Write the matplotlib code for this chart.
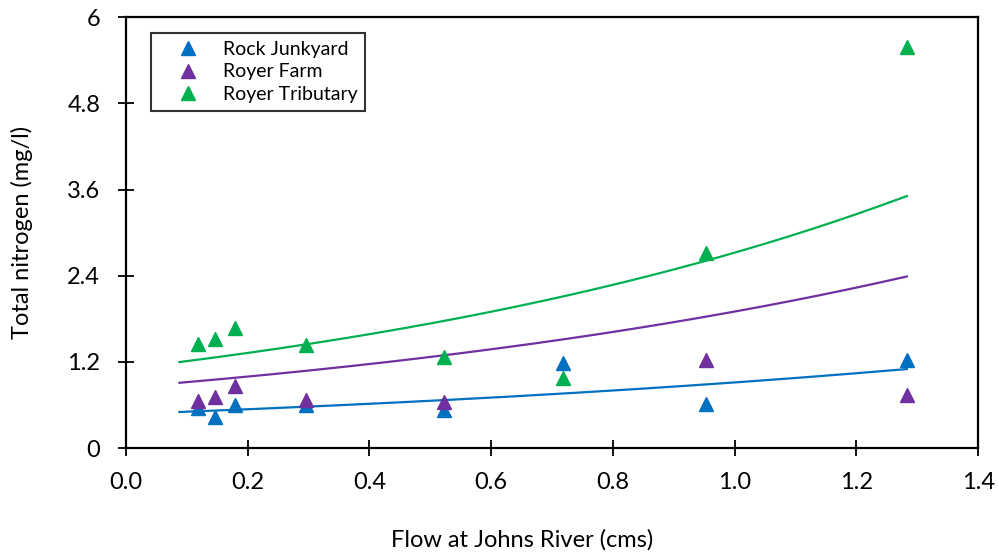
import numpy as np
import matplotlib
matplotlib.use("Agg")
import matplotlib.pyplot as plt
from matplotlib.ticker import FuncFormatter

# Flow at Johns River (cms) for each sampling date
flow = [0.118, 0.146, 0.180, 0.296, 0.522, 0.718, 0.953, 1.283]

# Total nitrogen (mg/l) at each site
rock_junkyard = [0.56, 0.43, 0.60, 0.60, 0.53, 1.19, 0.61, 1.23]
royer_farm = [0.66, 0.71, 0.87, 0.67, 0.64, np.nan, 1.23, 0.74]
royer_tributary = [1.45, 1.52, 1.67, 1.44, 1.27, 0.98, 2.72, 5.58]

series_names = ["Rock Junkyard", "Royer Farm", "Royer Tributary"]
colors = ["#0070C0", "#7030A0", "#00B050"]

# trendlines start a little before the first sample
trend_start = 0.088
# Royer Farm trendline as drawn in the source (start / end values)
farm_trend_ends = [0.91, 2.39]

x_ticks = [0.0, 0.2, 0.4, 0.6, 0.8, 1.0, 1.2, 1.4]
y_ticks = [0, 1.2, 2.4, 3.6, 4.8, 6]

plt.rcParams['font.family'] = ['Lato', 'DejaVu Sans']

fig = plt.figure(figsize=(9.99, 5.56), dpi=100)
ax = fig.add_axes([0.126, 0.194, 0.853, 0.775])

x = np.array(flow)
xs = np.linspace(trend_start, x.max(), 200)

all_series = [rock_junkyard, royer_farm, royer_tributary]
for name, vals, color in zip(series_names, all_series, colors):
    y = np.array(vals)
    ax.plot(x, y, linestyle='none', marker='^', markersize=10.5,
            color=color, label=name, zorder=3)

# exponential trendlines (fit on log y, like Excel)
for vals, color in [(rock_junkyard, colors[0]), (royer_tributary, colors[2])]:
    y = np.array(vals)
    b, ln_a = np.polyfit(x, np.log(y), 1)
    ax.plot(xs, np.exp(ln_a) * np.exp(b * xs), color=color, lw=1.6, zorder=2)

b_farm = np.log(farm_trend_ends[1] / farm_trend_ends[0]) / (x.max() - trend_start)
ax.plot(xs, farm_trend_ends[0] * np.exp(b_farm * (xs - trend_start)),
        color=colors[1], lw=1.6, zorder=2)

ax.set_xlim(0, 1.4)
ax.set_ylim(0, 6)
ax.set_xticks(x_ticks)
ax.set_yticks(y_ticks)
ax.xaxis.set_major_formatter(FuncFormatter(lambda v, p: f"{v:.1f}"))
ax.yaxis.set_major_formatter(FuncFormatter(lambda v, p: f"{v:g}"))
ax.tick_params(direction='inout', length=11, width=1.3, labelsize=17)
ax.tick_params(axis='x', pad=12)
ax.tick_params(axis='y', pad=13)

for s in ax.spines.values():
    s.set_linewidth(1.6)

ax.set_xlabel("Flow at Johns River (cms)", fontsize=17)
ax.set_ylabel("Total nitrogen (mg/l)", fontsize=17)
# label anchors: top edge of x label, right edge of y label
ax.xaxis.set_label_coords((522 - 126) / 852, (448 - 529) / 431)
ax.yaxis.set_label_coords((33 - 126) / 852, 0.5)

leg = ax.legend(loc='upper left', bbox_to_anchor=(0.029, 0.963), fontsize=14,
                frameon=True, fancybox=False, edgecolor='black',
                handletextpad=0.3, borderpad=0.4, labelspacing=0.28,
                handlelength=3.0, borderaxespad=0)
leg.get_frame().set_linewidth(1.5)

fig.savefig("out.png", dpi=100)
